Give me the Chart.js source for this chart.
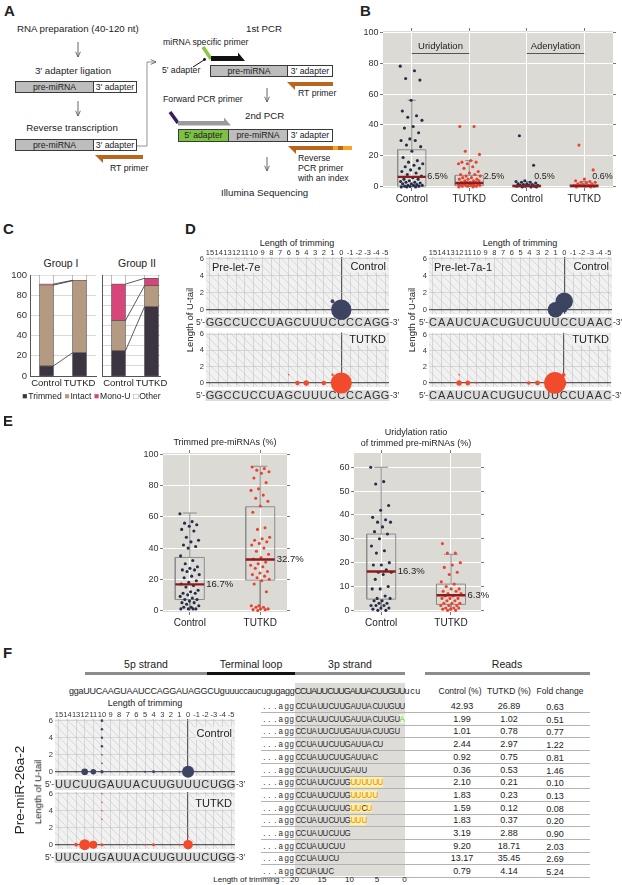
<!DOCTYPE html>
<html>
<head>
<meta charset="utf-8">
<title>Figure</title>
<script src="https://cdn.jsdelivr.net/npm/chart.js@4.4.1/dist/chart.umd.min.js"></script>
<style>
html,body{margin:0;padding:0;background:#fff;}
body{width:622px;height:885px;position:relative;overflow:hidden;font-family:"Liberation Sans",Arial,Helvetica,sans-serif;color:#222;}
.t{position:absolute;white-space:nowrap;line-height:1;}
canvas{position:absolute;}
.bx{position:absolute;box-sizing:border-box;border:1px solid #3a3a3a;font-size:8.7px;line-height:1;display:flex;align-items:center;justify-content:center;color:#222;}
.sq span{display:inline-block;text-align:center;}
.sq span i{display:inline-block;font-style:normal;transform:scaleX(0.84);}
.hb{position:absolute;height:3px;}
</style>
</head>
<body>
<svg width="360" height="205" style="position:absolute;left:0;top:0;">
<defs>
<marker id="ah" viewBox="0 0 8 8" refX="7.5" refY="4" markerWidth="6" markerHeight="6" markerUnits="userSpaceOnUse" orient="auto">
<path d="M0.5,0.8 L7.5,4 L0.5,7.2" fill="none" stroke="#555" stroke-width="1.1"/>
</marker>
</defs>
<g stroke="#555" stroke-width="0.9" fill="none">
<line x1="78" y1="42" x2="78" y2="57" marker-end="url(#ah)"/>
<line x1="78" y1="101" x2="78" y2="116" marker-end="url(#ah)"/>
<line x1="267" y1="88" x2="267" y2="102" marker-end="url(#ah)"/>
<line x1="267" y1="157" x2="267" y2="171" marker-end="url(#ah)"/>
<polyline points="137,146 147,146 147,62 156,62" stroke="#888" marker-end="url(#ah)"/>
<line x1="193" y1="67" x2="204" y2="60" stroke="#111" stroke-width="1"/>
</g>
<circle cx="204.5" cy="59.5" r="1.4" fill="#111"/>
<path d="M95,155 L143,155 L143,159 L103,159 L103,163 Z" fill="#b9651e"/>
<path d="M287,82 L333,82 L333,86 L295,86 L295,90 Z" fill="#b9651e"/>
<path d="M288,146 L352,146 L352,150 L296,150 L296,154 Z" fill="#b9651e"/>
<rect x="333" y="146" width="5" height="4" fill="#f5a623"/>
<rect x="343" y="146" width="9" height="4" fill="#f5a623"/>
<line x1="203" y1="47" x2="211" y2="59" stroke="#8dc63f" stroke-width="3.5"/>
<path d="M211,56 L238,56 L238,52.5 L245,61 L211,61 Z" fill="#111"/>
<line x1="170" y1="112" x2="178" y2="123" stroke="#3b1d5e" stroke-width="3.5"/>
<path d="M178,121 L224,121 L224,117.5 L231,125.5 L178,125.5 Z" fill="#9b9b9b"/>
</svg>
<script>
// ================= DATA =================
// Panel B: % of reads per pre-miRNA
const bLabels = ['Control', 'TUTKD', 'Control', 'TUTKD'];
const bCtrlU = [78, 75, 70, 69, 56, 49, 46, 45, 43, 39, 38, 35, 31, 30, 30, 27, 26, 23, 19, 17, 16, 15, 14, 13, 12, 11, 10, 9, 8, 7, 6, 5, 5, 4, 3.5, 3, 3, 2.5, 2, 2, 1.5, 1, 1, 1, 0.5, 0.5, 0.3, 0, 0, 0];
const bTutU = [39, 39, 23, 21, 17, 16, 16, 15, 15, 13, 12, 10, 9, 8, 8, 7, 7, 6, 6, 5, 5, 5, 4, 4, 4, 3, 3, 3, 3, 2, 2, 2, 2, 2, 1.5, 1, 1, 1, 1, 0.5, 0.5, 0.5, 0, 0];
const bCtrlA = [33, 14, 4, 3.5, 3, 3, 2.5, 2, 2, 1.5, 1.5, 1, 1, 1, 0.5, 0.5, 0.5, 0, 0, 0];
const bTutA = [27, 11, 5, 4, 3.5, 3, 3, 2.5, 2, 2, 1.5, 1, 1, 1, 0.5, 0.5, 0, 0];
const bQ1 = [0.5, 0.8, 0.2, 0.2];
const bMed = [6.5, 2.5, 0.5, 0.6];
const bQ3 = [24, 7.5, 1.3, 1.4];
const bLo = [0, 0, 0, 0];
const bHi = [56, 17, 3.5, 3.5];
const bMedText = ['6.5%', '2.5%', '0.5%', '0.6%'];
const bTicks = [0, 20, 40, 60, 80, 100];

// Panel C: stacked %
const cNames = ['Trimmed', 'Intact', 'Mono-U', 'Other'];
const cLabels = ['Control', 'TUTKD'];
const cTrimmedI = [10, 23];
const cIntactI = [80, 71.3];
const cMonoI = [1, 0.5];
const cOtherI = [9, 5.2];
const cTrimmedII = [25, 68.5];
const cIntactII = [30, 20.8];
const cMonoII = [36, 7.4];
const cOtherII = [9, 3.3];

// Panel D: bubble grids (trimming length, U-tail length, % reads)
const seq7e = 'GGCCUCCUAGCUUUCCCCAGG';
const seq7a = 'CAAUCUACUGUCUUUCCUAAC';
const d7eCtrlTrim = [0, 1, 4];
const d7eCtrlTail = [0, 1, 0];
const d7eCtrlPct = [85, 3, 0.4];
const d7eTutTrim = [0, 1, 2, 4, 5, 6];
const d7eTutTail = [0, 1, 0, 0, 0, 1];
const d7eTutPct = [92, 1.2, 4, 6, 4, 0.3];
const d7aCtrlTrim = [0, 1, 0, 11, 3];
const d7aCtrlTail = [1, 0, 0, 0, 0];
const d7aCtrlPct = [62, 50, 6, 0.4, 0.4];
const d7aTutTrim = [1, 0, 0, 12, 11, 4, 3, 12, 10];
const d7aTutTail = [0, 0, 1, 0, 0, 0, 0, 1, 0];
const d7aTutPct = [97, 6, 3, 6, 5, 2.5, 4.5, 0.4, 0.3];
const trimTicks = [15, 14, 13, 12, 11, 10, 9, 8, 7, 6, 5, 4, 3, 2, 1, 0, -1, -2, -3, -4, -5];
const tailTicks = [0, 1, 2, 3, 4, 5, 6];

// Panel E
const eLabels = ['Control', 'TUTKD'];
const eTrimCtrl = [62, 57, 56, 55, 54, 52, 51, 47, 45, 44, 42, 41, 40, 35, 32, 30, 28, 27, 26, 26, 25, 23, 22, 21, 19, 18, 17, 16, 15, 13, 12, 11, 11, 10, 9, 8, 7, 7, 6, 5, 5, 4, 3, 2, 2, 1, 1, 1, 1];
const eTrimTut = [92, 91, 90, 89, 88, 85, 82, 78, 77, 74, 72, 70, 67, 63, 53, 52, 47, 46, 45, 44, 43, 42, 40, 38, 36, 34, 33, 31, 30, 29, 28, 27, 25, 24, 23, 22, 21, 20, 19, 17, 12, 3, 3, 2, 2, 1, 1, 0.5, 0.5, 0];
const eTrimQ1 = [7, 19.5];
const eTrimMed = [16.7, 32.7];
const eTrimQ3 = [34, 66.5];
const eTrimLo = [0, 0];
const eTrimHi = [62.5, 92.5];
const eTrimTicks = [0, 20, 40, 60, 80, 100];
const eUriCtrl = [60, 54, 53, 44, 42, 39, 38, 37, 37, 35, 33, 32, 30, 27, 25, 24, 20, 19, 19, 17, 16, 16, 15, 13, 10, 9, 9, 6, 5, 5, 4, 4, 3, 3, 2, 2, 2, 1, 1, 0.5, 0, 0];
const eUriTut = [28, 24, 24, 20, 19, 18, 16, 15, 12, 11, 10, 9, 9, 8, 8, 7, 7, 6, 6, 5, 5, 5, 4, 4, 3, 3, 3, 2, 2, 2, 1, 1, 1, 0.5, 0.5, 0, 0];
const eUriQ1 = [4.7, 2.5];
const eUriMed = [16.3, 6.3];
const eUriQ3 = [32, 11];
const eUriLo = [0, 0];
const eUriHi = [60, 23.5];
const eUriTicks = [0, 10, 20, 30, 40, 50, 60];

// Panel F
const seq26 = 'UUCUUGAUUACUUGUUUCUGG';
const fCtrlTrim = [0, 1, 4, 5, 7, 10, 11, 12, 13, 10, 10, 10, 10, 10, 10, 3, -3];
const fCtrlTail = [0, 0, 0, 0, 0, 0, 0, 0, 0, 3, 4, 5, 6, 1, 2, 0, 0];
const fCtrlPct = [42.93, 1.01, 2.44, 0.92, 0.36, 3.19, 9.20, 13.17, 0.79, 1.83, 1.59, 1.83, 2.10, 0.5, 0.5, 0.2, 0.2];
const fTutTrim = [0, 1, 4, 5, 7, 10, 11, 12, 13, 10, 10, 10, 10, 0];
const fTutTail = [0, 0, 0, 0, 0, 0, 0, 0, 0, 3, 4, 5, 6, 1];
const fTutPct = [26.89, 0.78, 2.97, 0.75, 0.53, 2.88, 18.71, 35.45, 4.14, 0.37, 0.12, 0.23, 0.21, 0.3];
const fHead5p = 'ggaUUCAAGUAAUCCAGGAUAGGCUguuuccaucugugagg';
const fHead3p = 'CCUAUUCUUGAUUACUUGUU';
const fHeadEnd = 'ucu';
const fCore = ['CCUAUUCUUGAUUACUUGUU', 'CCUAUUCUUGAUUACUUGU', 'CCUAUUCUUGAUUACUUGU', 'CCUAUUCUUGAUUACU', 'CCUAUUCUUGAUUAC', 'CCUAUUCUUGAUU', 'CCUAUUCUUG', 'CCUAUUCUUG', 'CCUAUUCUUG', 'CCUAUUCUUG', 'CCUAUUCUUG', 'CCUAUUCUU', 'CCUAUUCU', 'CCUAUUC'];
const fTail = ['', 'A', '', '', '', '', 'UUUUUU', 'UUUUU', 'UUCU', 'UUU', '', '', '', ''];
const fCtrl = ['42.93', '1.99', '1.01', '2.44', '0.92', '0.36', '2.10', '1.83', '1.59', '1.83', '3.19', '9.20', '13.17', '0.79'];
const fTut = ['26.89', '1.02', '0.78', '2.97', '0.75', '0.53', '0.21', '0.23', '0.12', '0.37', '2.88', '18.71', '35.45', '4.14'];
const fFold = ['0.63', '0.51', '0.77', '1.22', '0.81', '1.46', '0.10', '0.13', '0.08', '0.20', '0.90', '2.03', '2.69', '5.24'];
const fTrimAxis = [20, 15, 10, 5, 0];

// ================= STYLE =================
const NAVY = '#252d4b', RED = '#e8432e';
const NAVY_B = '#3c4462', RED_B = '#f24b2c';
const PANEL_BG = '#dcdad5';
const C_COLORS = ['#3c3440', '#b49a81', '#d6467a', '#ffffff'];
const FONT = '"Liberation Sans", Arial, Helvetica, sans-serif';

Chart.defaults.font.family = FONT;
Chart.defaults.color = '#222';

// ================= HELPERS =================
function T(txt, x, y, o) {
  o = o || {};
  const d = document.createElement('div');
  d.className = 't';
  d.textContent = txt;
  const al = o.align || 'left';
  const tx = al === 'center' ? '-50%' : (al === 'right' ? '-100%' : '0');
  d.style.left = x + 'px';
  d.style.top = y + 'px';
  d.style.fontSize = (o.size || 9) + 'px';
  if (o.weight) d.style.fontWeight = o.weight;
  if (o.color) d.style.color = o.color;
  if (o.bg) { d.style.background = o.bg; d.style.padding = '1px 1px'; }
  d.style.transform = 'translate(' + tx + ',-50%)' + (o.rot ? ' rotate(' + o.rot + 'deg)' : '');
  document.body.appendChild(d);
  return d;
}
function fitText(txt, l, w, y, size, color) {
  const d = T(txt, l, y, { size: size, color: color });
  const cur = d.getBoundingClientRect().width;
  d.style.letterSpacing = ((w - cur) / txt.length) + 'px';
  return d;
}
function box(l, t, w, h, bg, txt) {
  const d = document.createElement('div');
  d.className = 'bx';
  Object.assign(d.style, { left: l + 'px', top: t + 'px', width: w + 'px', height: h + 'px', background: bg });
  d.textContent = txt;
  document.body.appendChild(d);
}
function hbar(l, r, y, color, h) {
  const d = document.createElement('div');
  d.className = 'hb';
  Object.assign(d.style, { left: l + 'px', top: (y - (h || 3) / 2) + 'px', width: (r - l) + 'px', height: (h || 3) + 'px', background: color });
  document.body.appendChild(d);
}
function rect(l, t, w, h, bg) {
  const d = document.createElement('div');
  Object.assign(d.style, { position: 'absolute', left: l + 'px', top: t + 'px', width: w + 'px', height: h + 'px', background: bg });
  document.body.appendChild(d);
}
function seqRow(x0, y, cw, size, parts) {
  const d = document.createElement('div');
  d.className = 't sq';
  d.style.left = x0 + 'px';
  d.style.top = y + 'px';
  d.style.fontSize = size + 'px';
  d.style.transform = 'translate(0,-50%)';
  parts.forEach(p => {
    for (const ch of p.s) {
      const sp = document.createElement('span');
      const g = document.createElement('i');
      g.textContent = ch;
      sp.appendChild(g);
      sp.style.width = cw + 'px';
      sp.style.color = p.color || '#2b2b2b';
      if (p.bg) sp.style.background = p.bg;
      d.appendChild(sp);
    }
  });
  document.body.appendChild(d);
}
const fitTo = sz => s => { if (s.isHorizontal()) s.height = sz; else s.width = sz; };
function blank(pos, size) {
  return { type: 'linear', position: pos, display: true, ticks: { display: false }, grid: { display: false, drawTicks: false }, border: { display: false }, afterFit: fitTo(size) };
}
const setTicks = vals => s => { s.ticks = vals.map(v => ({ value: v })); };
const jit = (i, w) => ((((i * 0.6180339887) % 1) - 0.5) * 2 * w);

function mk(area, sz, config) {
  const cv = document.createElement('canvas');
  const L = area.l - sz.l, Tp = area.t - sz.t;
  const W = area.r - area.l + sz.l + sz.r, H = area.b - area.t + sz.t + sz.b;
  cv.width = W; cv.height = H;
  Object.assign(cv.style, { left: L + 'px', top: Tp + 'px', width: W + 'px', height: H + 'px' });
  document.body.appendChild(cv);
  const o = config.options = config.options || {};
  o.responsive = false; o.maintainAspectRatio = false; o.animation = false; o.devicePixelRatio = 1;
  o.layout = { padding: 0 };
  o.events = [];
  o.plugins = Object.assign({ legend: { display: false }, tooltip: { enabled: false } }, o.plugins || {});
  return new Chart(cv, config);
}

// ================= PLUGINS =================
const bgPlug = {
  id: 'bgfill',
  beforeDraw(chart, args, o) {
    if (!o || !o.color) return;
    const a = chart.chartArea, c = chart.ctx;
    c.save(); c.fillStyle = o.color; c.fillRect(a.left, a.top, a.right - a.left, a.bottom - a.top); c.restore();
  }
};
const textPlug = {
  id: 'texts',
  afterDatasetsDraw(chart, args, o) {
    if (!o || (!o.items && !o.lines)) return;
    const c = chart.ctx, xs = chart.scales.x, ys = chart.scales.y;
    c.save();
    (o.lines || []).forEach(l => {
      c.strokeStyle = l.color || '#444'; c.lineWidth = l.w || 1;
      c.beginPath();
      c.moveTo(xs.getPixelForValue(l.x0), Math.round(ys.getPixelForValue(l.y)) + 0.5);
      c.lineTo(xs.getPixelForValue(l.x1), Math.round(ys.getPixelForValue(l.y)) + 0.5);
      c.stroke();
    });
    (o.items || []).forEach(it => {
      c.font = it.font || ('9px ' + FONT);
      c.fillStyle = it.color || '#222';
      c.textAlign = it.align || 'left';
      c.textBaseline = 'middle';
      c.fillText(it.text, xs.getPixelForValue(it.x) + (it.dx || 0), ys.getPixelForValue(it.y));
    });
    c.restore();
  }
};
const gridPlug = {
  id: 'seqgrid',
  beforeDraw(chart, args, o) {
    if (!o || !o.on) return;
    const c = chart.ctx, a = chart.chartArea, xs = chart.scales.x, ys = chart.scales.y;
    const step = Math.abs(xs.getPixelForValue(1) - xs.getPixelForValue(0));
    const y0 = ys.getPixelForValue(0), x0 = xs.getPixelForValue(0);
    c.save();
    c.beginPath(); c.rect(a.left, a.top, a.right - a.left, a.bottom - a.top); c.clip();
    c.fillStyle = o.bg; c.fillRect(a.left, a.top, a.right - a.left, a.bottom - a.top);
    c.strokeStyle = o.hatch; c.lineWidth = 0.65;
    c.beginPath();
    for (let k = -40; k <= 40; k++) {
      const px = x0 + k * step;
      c.moveTo(px - (y0 - a.top), a.top);
      c.lineTo(px + (a.bottom - y0), a.bottom);
    }
    c.stroke();
    c.restore();
    const l = Math.min(xs.getPixelForValue(15.5), xs.getPixelForValue(-5.5));
    const r = Math.max(xs.getPixelForValue(15.5), xs.getPixelForValue(-5.5));
    c.save();
    c.fillStyle = o.band;
    c.fillRect(l, a.bottom + 3, r - l, 11);
    c.font = '8.5px ' + FONT; c.fillStyle = '#333'; c.textBaseline = 'middle';
    c.textAlign = 'right'; c.fillText('5\u2032-', l - 0.5, a.bottom + 8.6);
    c.textAlign = 'left'; c.fillText('-3\u2032', r + 0.5, a.bottom + 8.6);
    c.restore();
  }
};
const connPlug = {
  id: 'connectors',
  afterDatasetsDraw(chart, args, o) {
    if (!o || !o.on) return;
    const c = chart.ctx;
    c.save(); c.strokeStyle = '#333'; c.lineWidth = 0.8;
    for (let i = 0; i < chart.data.datasets.length - 1; i++) {
      const m = chart.getDatasetMeta(i);
      const b0 = m.data[0], b1 = m.data[1];
      c.beginPath(); c.moveTo(b0.x + b0.width / 2, b0.y); c.lineTo(b1.x - b1.width / 2, b1.y); c.stroke();
    }
    c.restore();
  }
};
Chart.register(bgPlug, textPlug, gridPlug, connPlug);

// ================= CHART BUILDERS =================
function boxChart(p) {
  const boxPts = [], whisk = [], meds = [];
  p.q1.forEach((_, i) => {
    const c = i + 1;
    boxPts.push({ x: c - p.half, y: p.q1[i] }, { x: c + p.half, y: p.q1[i] }, { x: c + p.half, y: p.q3[i] }, { x: c - p.half, y: p.q3[i] }, { x: c - p.half, y: p.q1[i] }, { x: c, y: null });
    if (p.hi[i] > p.q3[i]) whisk.push({ x: c, y: p.q3[i] }, { x: c, y: p.hi[i] }, { x: c, y: null }, { x: c - p.cap, y: p.hi[i] }, { x: c + p.cap, y: p.hi[i] }, { x: c, y: null });
    if (p.lo[i] < p.q1[i]) whisk.push({ x: c, y: p.q1[i] }, { x: c, y: p.lo[i] }, { x: c, y: null });
    meds.push({ x: c - p.half, y: p.med[i] }, { x: c + p.half, y: p.med[i] }, { x: c, y: null });
  });
  const ds = [
    { type: 'line', data: boxPts, borderColor: '#8d8d8d', borderWidth: 1, pointRadius: 0, fill: false, order: 5, spanGaps: false, xAxisID: 'x', yAxisID: 'y' },
    { type: 'line', data: whisk, borderColor: '#8d8d8d', borderWidth: 1, pointRadius: 0, fill: false, order: 5, spanGaps: false, xAxisID: 'x', yAxisID: 'y' }
  ];
  p.groups.forEach((g, gi) => {
    ds.push({ type: 'scatter', data: g.map((v, i) => ({ x: gi + 1 + jit(i + gi * 5, p.jw), y: v })), backgroundColor: p.colors[gi], borderWidth: 0, pointRadius: 1.55, order: 3, clip: false, xAxisID: 'x', yAxisID: 'y' });
  });
  ds.push({ type: 'line', data: meds, borderColor: '#8e1c1c', borderWidth: 2.4, pointRadius: 0, fill: false, order: 1, spanGaps: false, xAxisID: 'x', yAxisID: 'y' });
  const catTicks = p.labels.map((_, i) => i + 1);
  const tickGrid = { drawOnChartArea: false, drawTicks: true, tickLength: 3, color: '#777', tickColor: '#777' };
  return mk(p.area, p.sz, {
    type: 'scatter',
    data: { datasets: ds },
    options: {
      scales: {
        x: { type: 'linear', position: 'bottom', min: p.xmin, max: p.xmax, afterFit: fitTo(p.sz.b), afterBuildTicks: setTicks(catTicks),
          ticks: { autoSkip: false, maxRotation: 0, minRotation: 0, padding: 2, font: { size: 10 }, color: '#222', callback: v => p.labels[Math.round(v) - 1] || '' },
          grid: { color: '#ffffff', lineWidth: 1, drawTicks: true, tickLength: 3, tickColor: '#777' }, border: { display: false } },
        y: { type: 'linear', position: 'left', min: p.ymin, max: p.ymax, afterFit: fitTo(p.sz.l), afterBuildTicks: setTicks(p.yticks),
          ticks: { padding: 1.5, font: { size: 9 }, color: '#333' },
          grid: { color: '#ffffff', lineWidth: 1, drawTicks: true, tickLength: 3, tickColor: '#777' }, border: { display: false } },
        xt: { type: 'linear', position: 'top', min: p.xmin, max: p.xmax, afterFit: fitTo(p.sz.t), afterBuildTicks: setTicks(catTicks), ticks: { display: false }, grid: tickGrid, border: { display: false } },
        yr: { type: 'linear', position: 'right', min: p.ymin, max: p.ymax, afterFit: fitTo(p.sz.r), afterBuildTicks: setTicks(p.yticks), ticks: { display: false }, grid: tickGrid, border: { display: false } }
      },
      plugins: { bgfill: { color: PANEL_BG }, texts: { items: p.texts || [], lines: p.lines || [] } }
    }
  });
}

function stackChart(p) {
  const ds = p.vals.map((arr, i) => ({
    type: 'bar', label: cNames[i], data: arr.map((v, j) => ({ x: j, y: v })),
    backgroundColor: C_COLORS[i], borderColor: i === 3 ? '#8a8a8a' : '#4a4a4a', borderWidth: 0.6, borderSkipped: false, barThickness: 14,
    xAxisID: 'x', yAxisID: 'y'
  }));
  return mk(p.area, p.sz, {
    type: 'bar',
    data: { datasets: ds },
    options: {
      scales: {
        x: { type: 'linear', stacked: true, offset: false, position: 'bottom', min: -0.5, max: p.xmax, afterFit: fitTo(p.sz.b), afterBuildTicks: setTicks([0, 1]),
          ticks: { autoSkip: false, maxRotation: 0, minRotation: 0, padding: 2, font: { size: 9.5 }, color: '#222', callback: v => cLabels[Math.round(v)] },
          grid: { display: false, offset: false, drawTicks: false }, border: { display: true, color: '#555', width: 1 } },
        y: { type: 'linear', stacked: true, position: 'left', min: 0, max: 100, afterFit: fitTo(p.sz.l), afterBuildTicks: setTicks([0, 10, 20, 30, 40, 50, 60, 70, 80, 90, 100]),
          ticks: { display: p.showY, padding: 3, font: { size: 9.5 }, color: '#333', callback: v => (v % 20 === 0 ? String(v) : '') },
          grid: { color: '#cfcfcf', lineWidth: 0.8, drawTicks: false }, border: { display: true, color: '#555', width: 1 } },
        xt: blank('top', p.sz.t),
        yr: blank('right', p.sz.r)
      },
      plugins: { connectors: { on: true } }
    }
  });
}

function gridChart(p) {
  const zc = c => (c.tick && c.tick.value === 0) ? '#5a5a5a' : '#c2c2c2';
  const zw = c => (c.tick && c.tick.value === 0) ? 1.2 : 0.6;
  const scales = {
    x: { type: 'linear', reverse: true, min: -5.45, max: 15.45, position: 'bottom', afterFit: fitTo(p.sz.b), afterBuildTicks: setTicks(trimTicks),
      ticks: { autoSkip: false, maxRotation: 0, minRotation: 0, padding: 2, font: { size: 11 }, color: '#333', callback: v => p.seq[15 - Math.round(v)] },
      grid: { drawTicks: false, color: zc, lineWidth: zw }, border: { display: false } },
    y: { type: 'linear', position: 'left', min: -0.5, max: 6.2, afterFit: fitTo(p.sz.l), afterBuildTicks: setTicks(tailTicks),
      ticks: { padding: 2, font: { size: 7.5 }, color: '#333' },
      grid: { drawTicks: false, color: zc, lineWidth: zw }, border: { display: false } },
    yr: blank('right', p.sz.r)
  };
  if (p.top) {
    scales.xt = { type: 'linear', reverse: true, min: -5.45, max: 15.45, position: 'top', afterFit: fitTo(p.sz.t), afterBuildTicks: setTicks(trimTicks),
      ticks: { autoSkip: false, maxRotation: 0, minRotation: 0, padding: 0, font: { size: 7.5 }, color: '#333' },
      grid: { display: false, drawTicks: false }, border: { display: false } };
  } else {
    scales.xt = blank('top', p.sz.t);
  }
  return mk(p.area, p.sz, {
    type: 'bubble',
    data: { datasets: [{
      data: p.trim.map((t, i) => ({ x: t, y: p.tail[i], r: Math.max(0.8, p.k * Math.sqrt(p.pct[i])) })),
      backgroundColor: p.color, borderWidth: 0, clip: false, xAxisID: 'x', yAxisID: 'y'
    }] },
    options: {
      scales: scales,
      plugins: { seqgrid: { on: true, bg: '#f1f1f1', hatch: '#c9c9c9', band: '#dcdcdc' } }
    }
  });
}

// ================= PANEL A =================
T('A', 4, 10, { size: 15, weight: 'bold' });
T('RNA preparation (40-120 nt)', 17, 29, { size: 9.7 });
T('3\u2032 adapter ligation', 73, 71, { size: 9.7, align: 'center' });
box(15, 81, 79, 12, '#bdbdbd', 'pre-miRNA');
box(93, 81, 44, 12, '#ffffff', '3\u2032 adapter');
T('Reverse transcription', 72, 128, { size: 9.7, align: 'center' });
box(15, 139, 79, 12, '#bdbdbd', 'pre-miRNA');
box(93, 139, 44, 12, '#ffffff', '3\u2032 adapter');
T('RT primer', 110, 168, { size: 8.7 });
T('1st PCR', 246, 29, { size: 9.7 });
T('miRNA specific primer', 163, 42, { size: 8.7 });
T('5\u2032 adapter', 162, 70, { size: 8.7 });
box(210, 65, 78, 12, '#bdbdbd', 'pre-miRNA');
box(287, 65, 46, 12, '#ffffff', '3\u2032 adapter');
T('RT primer', 298, 93, { size: 8.7 });
T('Forward PCR primer', 163, 99, { size: 8.7 });
T('2nd PCR', 245, 116, { size: 9.7 });
box(178, 129, 51, 13, '#7cc142', '5\u2032 adapter');
box(228, 129, 60, 13, '#bdbdbd', 'pre-miRNA');
box(287, 129, 46, 13, '#ffffff', '3\u2032 adapter');
T('Reverse', 298, 158, { size: 8.7 });
T('PCR primer', 298, 168, { size: 8.7 });
T('with an index', 298, 178, { size: 8.7 });
T('Illumina Sequencing', 221, 193, { size: 9.7 });

// ================= PANEL B =================
T('B', 360, 10, { size: 15, weight: 'bold' });
boxChart({
  area: { l: 383, t: 31, r: 613, b: 188 }, sz: { l: 43, r: 6, t: 10, b: 22 },
  xmin: 0.5, xmax: 4.5, ymin: -0.7, ymax: 100.7, yticks: bTicks, labels: bLabels,
  q1: bQ1, med: bMed, q3: bQ3, lo: bLo, hi: bHi,
  groups: [bCtrlU, bTutU, bCtrlA, bTutA], colors: [NAVY, RED, NAVY, RED],
  half: 0.245, cap: 0.07, jw: 0.2,
  texts: [
    { x: 1.5, y: 90.5, text: 'Uridylation', align: 'center', font: '9.5px ' + FONT },
    { x: 3.5, y: 90.5, text: 'Adenylation', align: 'center', font: '9.5px ' + FONT },
    { x: 1.27, y: 6.4, text: bMedText[0], font: '9px ' + FONT },
    { x: 2.25, y: 6.4, text: bMedText[1], font: '9px ' + FONT },
    { x: 3.13, y: 6.4, text: bMedText[2], font: '9px ' + FONT },
    { x: 4.14, y: 6.4, text: bMedText[3], font: '9px ' + FONT }
  ],
  lines: [{ x0: 1, x1: 2, y: 86.3, color: '#555', w: 1 }, { x0: 3, x1: 4, y: 86.3, color: '#555', w: 1 }]
});

// ================= PANEL C =================
T('C', 3, 228, { size: 15, weight: 'bold' });
T('Group I', 61, 263, { size: 10.5, align: 'center' });
T('Group II', 137, 263, { size: 10.5, align: 'center' });
stackChart({ area: { l: 30, t: 275, r: 96, b: 376 }, sz: { l: 28, r: 4, t: 10, b: 14 }, xmax: 1.5, showY: true, vals: [cTrimmedI, cIntactI, cMonoI, cOtherI] });
stackChart({ area: { l: 102, t: 275, r: 160, b: 376 }, sz: { l: 4, r: 12, t: 10, b: 14 }, xmax: 1.258, showY: false, vals: [cTrimmedII, cIntactII, cMonoII, cOtherII] });
(function () {
  const d = document.createElement('div');
  d.className = 't';
  d.style.left = '22px'; d.style.top = '396px'; d.style.fontSize = '8.6px'; d.style.transform = 'translate(0,-50%)';
  const marks = ['\u25A0', '\u25A0', '\u25A0', '\u25A1'];
  const cols = [C_COLORS[0], C_COLORS[1], C_COLORS[2], '#777'];
  cNames.forEach((n, i) => {
    const s = document.createElement('span'); s.textContent = marks[i]; s.style.color = cols[i]; s.style.marginRight = '1px';
    d.appendChild(s);
    d.appendChild(document.createTextNode(n + (i < 3 ? ' ' : '')));
  });
  document.body.appendChild(d);
})();

// ================= PANEL D =================
T('D', 185, 228, { size: 15, weight: 'bold' });
T('Length of trimming', 297, 243, { size: 9, align: 'center' });
T('Length of trimming', 520, 243, { size: 9, align: 'center' });
gridChart({ area: { l: 206, t: 257, r: 389, b: 314 }, sz: { l: 24, r: 18, t: 13, b: 16 }, seq: seq7e, trim: d7eCtrlTrim, tail: d7eCtrlTail, pct: d7eCtrlPct, color: NAVY_B, k: 1.1, top: true });
gridChart({ area: { l: 206, t: 330, r: 389, b: 387 }, sz: { l: 24, r: 18, t: 8, b: 16 }, seq: seq7e, trim: d7eTutTrim, tail: d7eTutTail, pct: d7eTutPct, color: RED_B, k: 1.1, top: false });
gridChart({ area: { l: 429, t: 257, r: 612, b: 314 }, sz: { l: 24, r: 10, t: 13, b: 16 }, seq: seq7a, trim: d7aCtrlTrim, tail: d7aCtrlTail, pct: d7aCtrlPct, color: NAVY_B, k: 1.1, top: true });
gridChart({ area: { l: 429, t: 330, r: 612, b: 387 }, sz: { l: 24, r: 10, t: 8, b: 16 }, seq: seq7a, trim: d7aTutTrim, tail: d7aTutTail, pct: d7aTutPct, color: RED_B, k: 1.1, top: false });
T('Length of U-tail', 190, 320, { size: 9.5, align: 'center', rot: -90 });
T('Length of U-tail', 412, 320, { size: 9.5, align: 'center', rot: -90 });
T('Pre-let-7e', 211, 267, { size: 11, bg: 'rgba(241,241,241,0.9)' });
T('Pre-let-7a-1', 433, 267, { size: 11, bg: 'rgba(241,241,241,0.9)' });
T('Control', 387, 266, { size: 11, align: 'right', bg: 'rgba(241,241,241,0.9)' });
T('Control', 610, 266, { size: 11, align: 'right', bg: 'rgba(241,241,241,0.9)' });
T('TUTKD', 387, 339, { size: 11, align: 'right', bg: 'rgba(241,241,241,0.9)' });
T('TUTKD', 610, 339, { size: 11, align: 'right', bg: 'rgba(241,241,241,0.9)' });

// ================= PANEL E =================
T('E', 3, 420, { size: 15, weight: 'bold' });
T('Trimmed pre-miRNAs (%)', 225, 442, { size: 9, align: 'center' });
T('Uridylation ratio', 416, 432, { size: 9, align: 'center' });
T('of trimmed pre-miRNAs (%)', 416, 443, { size: 9, align: 'center' });
boxChart({
  area: { l: 163, t: 453, r: 287, b: 612 }, sz: { l: 30, r: 30, t: 9, b: 20 },
  xmin: 0.62, xmax: 2.38, ymin: -1, ymax: 101, yticks: eTrimTicks, labels: eLabels,
  q1: eTrimQ1, med: eTrimMed, q3: eTrimQ3, lo: eTrimLo, hi: eTrimHi,
  groups: [eTrimCtrl, eTrimTut], colors: [NAVY, RED], half: 0.206, cap: 0.1, jw: 0.14,
  texts: [
    { x: 1.206, dx: 2, y: eTrimMed[0], text: '16.7%', font: '9.5px ' + FONT },
    { x: 2.206, dx: 2, y: eTrimMed[1], text: '32.7%', font: '9.5px ' + FONT }
  ]
});
boxChart({
  area: { l: 354, t: 453, r: 481, b: 612 }, sz: { l: 26, r: 30, t: 9, b: 20 },
  xmin: 0.61, xmax: 2.43, ymin: -0.7, ymax: 66, yticks: eUriTicks, labels: eLabels,
  q1: eUriQ1, med: eUriMed, q3: eUriQ3, lo: eUriLo, hi: eUriHi,
  groups: [eUriCtrl, eUriTut], colors: [NAVY, RED], half: 0.208, cap: 0.1, jw: 0.15,
  texts: [
    { x: 1.208, dx: 2, y: eUriMed[0], text: '16.3%', font: '9.5px ' + FONT },
    { x: 2.208, dx: 2, y: eUriMed[1], text: '6.3%', font: '9.5px ' + FONT }
  ]
});

// ================= PANEL F =================
T('F', 3, 652, { size: 15, weight: 'bold' });
rect(294.5, 683, 110, 193, '#dddcd7');
T('5p strand', 146, 664, { size: 10.5, align: 'center' });
T('Terminal loop', 251, 664, { size: 10.5, align: 'center' });
T('3p strand', 350, 664, { size: 10.5, align: 'center' });
T('Reads', 507, 664, { size: 10.5, align: 'center' });
hbar(85, 207, 673, '#8c8c8c');
hbar(207, 295, 673, '#111111');
hbar(295, 405, 673, '#8c8c8c');
hbar(425, 590, 673, '#8c8c8c');
const CW = 5.5;
fitText(fHead5p, 294.5 - fHead5p.length * CW, fHead5p.length * CW, 691, 9, '#1e1e1e');
fitText(fHead3p, 294.5, fHead3p.length * CW, 691, 9, '#1e1e1e');
fitText(fHeadEnd, 404.5, fHeadEnd.length * CW, 691, 9, '#1e1e1e');
T('Control (%)', 460, 691, { size: 8.5, align: 'center' });
T('TUTKD (%)', 509, 691, { size: 8.5, align: 'center' });
T('Fold change', 560, 691, { size: 8.5, align: 'center' });
fCore.forEach((core, i) => {
  const y = 706 + i * 12.7;
  const parts = [{ s: '...agg' }, { s: core }];
  const tail = fTail[i];
  if (tail === 'A') parts.push({ s: 'A', color: '#6cc04a', bg: '#eef8dc' });
  else if (tail) {
    for (const ch of tail) parts.push({ s: ch, color: ch === 'U' ? '#ee8a00' : '#3a2a00', bg: '#fff1a8' });
  }
  seqRow(294.5 - 6 * CW, y, CW, 9.4, parts);
  const ln = document.createElement('div');
  Object.assign(ln.style, { position: 'absolute', left: '261px', width: '329px', top: (y + 6) + 'px', height: '0', borderTop: '1px solid #b3b3b3' });
  document.body.appendChild(ln);
  T(fCtrl[i], 462, y, { size: 9, align: 'center' });
  T(fTut[i], 509, y, { size: 9, align: 'center' });
  T(fFold[i], 555, y + 1, { size: 9, align: 'center' });
});
T('Length of trimming :', 284, 880, { size: 8, align: 'right' });
fTrimAxis.forEach(t => T(String(t), 404.5 - t * CW, 880, { size: 8, align: 'center' }));

T('Length of trimming', 145, 703, { size: 9, align: 'center' });
gridChart({ area: { l: 55, t: 719, r: 235, b: 776 }, sz: { l: 22, r: 16, t: 13, b: 16 }, seq: seq26, trim: fCtrlTrim, tail: fCtrlTail, pct: fCtrlPct, color: NAVY_B, k: 0.92, top: true });
gridChart({ area: { l: 55, t: 792, r: 235, b: 849 }, sz: { l: 22, r: 16, t: 8, b: 16 }, seq: seq26, trim: fTutTrim, tail: fTutTail, pct: fTutPct, color: RED_B, k: 0.92, top: false });
T('Pre-miR-26a-2', 20, 790, { size: 13.5, align: 'center', rot: -90 });
T('Length of U-tail', 38, 792, { size: 9.5, align: 'center', rot: -90 });
T('Control', 233, 733, { size: 11, align: 'right', bg: 'rgba(241,241,241,0.9)' });
T('TUTKD', 233, 803, { size: 11, align: 'right', bg: 'rgba(241,241,241,0.9)' });
</script>
</body>
</html>
